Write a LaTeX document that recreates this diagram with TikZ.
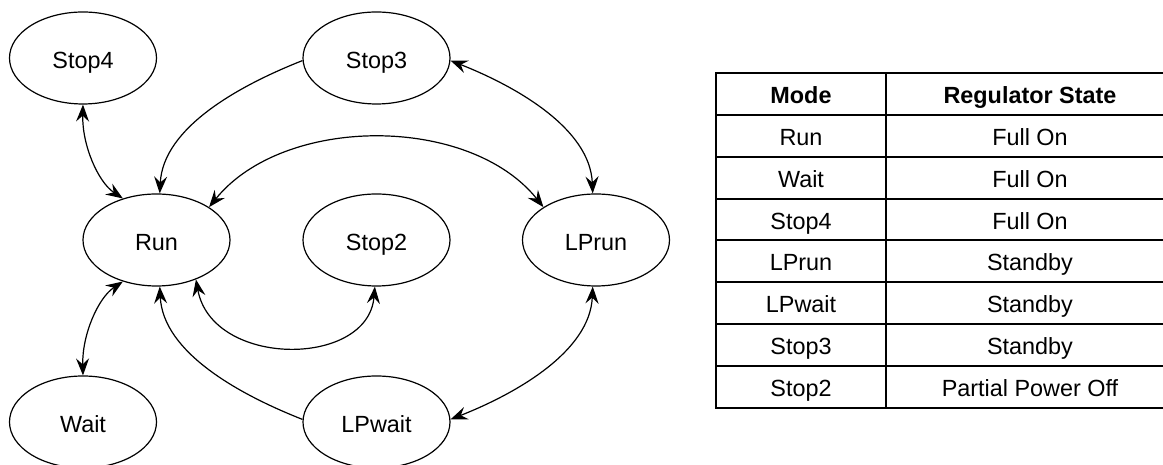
\documentclass[tikz,border=0pt]{standalone}
\usepackage{fontspec}
\setmainfont{Liberation Sans}
\usetikzlibrary{shapes.geometric,arrows.meta}
\begin{document}
\begin{tikzpicture}[x=1pt,y=1pt,
  >={Stealth[length=17pt,width=13pt,inset=6pt]},
  state/.style={ellipse,draw,line width=1.2pt,minimum width=147pt,minimum height=92pt,
    inner sep=0pt,font=\fontsize{23.4pt}{28pt}\selectfont,text height=22pt,text depth=0pt},
  link/.style={line width=1.2pt},
  cell/.style={inner sep=0pt,font=\fontsize{23.4pt}{28pt}\selectfont,text height=19pt,text depth=0pt},
  grid/.style={line width=2pt}]
\clip (0,0) rectangle (1163,465);
\useasboundingbox (0,0) rectangle (1163,465);
% states
\node[state] (S4) at (83,407) {Stop4};
\node[state] (S3) at (376.5,407) {Stop3};
\node[state] (R)  at (156.5,225) {Run};
\node[state] (S2) at (376.5,225) {Stop2};
\node[state] (LR) at (596,225) {LPrun};
\node[state] (W)  at (83,43) {Wait};
\node[state] (LW) at (376.5,43) {LPwait};
% transitions
\draw[link,<->] (S4.270) .. controls (82,320) and (98,283) .. (R.129);
\draw[link,->] (S3.182) .. controls (238,379) and (163,337) .. (R.86);
\draw[link,<->] (R.32) .. controls (283.8,350.3) and (469.6,350.3) .. (LR.148);
\draw[link,<->] (S3.358) .. controls (515,379) and (590,337) .. (LR.94);
\draw[link,<->] (W.90) .. controls (82,130) and (98,167) .. (R.231);
\draw[link,<->] (R.315) .. controls (212,97) and (368,97) .. (S2.268);
\draw[link,->] (LW.178) .. controls (238,71) and (163,113) .. (R.274);
\draw[link,<->] (LW.2) .. controls (515,71) and (590,113) .. (LR.266);
% table
\coordinate (TL) at (716,392);
\coordinate (BR) at (1174,57);
\draw[grid] (TL) rectangle (BR);
\draw[grid] (886,392) -- (886,57);
\foreach \i in {1,...,7} {
  \draw[grid] (716,392-41.875*\i) -- (1174,392-41.875*\i);
}
\node[cell,font=\fontsize{23.4pt}{28pt}\selectfont\bfseries] (h1) at (801,392-41.875*0.5) {Mode};
\node[cell,font=\fontsize{23.4pt}{28pt}\selectfont\bfseries] (h2) at (1030,392-41.875*0.5) {Regulator State};
\foreach \m/\s [count=\k] in {Run/Full On,Wait/Full On,Stop4/Full On,LPrun/Standby,LPwait/Standby,Stop3/Standby,Stop2/Partial Power Off} {
  \node[cell] (m\k) at (801,392-41.875*\k-41.875*0.5) {\m};
  \node[cell] (s\k) at (1030,392-41.875*\k-41.875*0.5) {\s};
}
\end{tikzpicture}
\end{document}
